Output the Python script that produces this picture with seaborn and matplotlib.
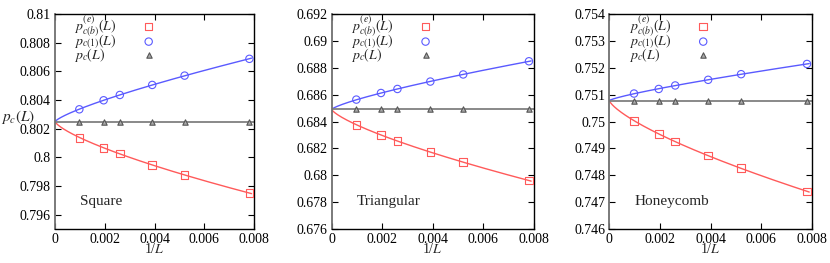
import numpy as np
import matplotlib
matplotlib.use('Agg')
import matplotlib.pyplot as plt
import seaborn as sns
from matplotlib.ticker import FormatStrFormatter, MultipleLocator

# data (x = 1/L for L = 1024, 512, 384, 256, 192, 128)
inv_L = [1/1024, 1/512, 1/384, 1/256, 1/192, 1/128]

square_e = [0.80137, 0.80067, 0.80026, 0.79947, 0.79877, 0.79751]
square_b = [0.80335, 0.80398, 0.80435, 0.80505, 0.80570, 0.80687]
square_c = [0.80249, 0.80249, 0.80249, 0.80249, 0.80249, 0.80249]

tri_e = [0.68375, 0.68298, 0.68255, 0.68175, 0.68098, 0.67960]
tri_b = [0.68563, 0.68612, 0.68642, 0.68697, 0.68750, 0.68848]
tri_c = [0.68490, 0.68490, 0.68490, 0.68490, 0.68490, 0.68490]

honey_e = [0.75003, 0.74953, 0.74925, 0.74874, 0.74826, 0.74740]
honey_b = [0.75104, 0.75121, 0.75134, 0.75155, 0.75176, 0.75214]
honey_c = [0.75078, 0.75078, 0.75078, 0.75078, 0.75078, 0.75078]

lattices = ['Square', 'Triangular', 'Honeycomb']
y_limits = [(0.795, 0.81), (0.676, 0.692), (0.746, 0.754)]
y_steps = [0.002, 0.002, 0.001]
x_ticks = [0, 0.002, 0.004, 0.006, 0.008]

legend_labels = [r'$p_{c(b)}^{(e)}(L)$', r'$p_{c(1)}(L)$', r'$p_{c}(L)$']

sns.set_theme(style='ticks')
plt.rcParams['font.family'] = ['Liberation Serif', 'DejaVu Serif']
plt.rcParams['mathtext.fontset'] = 'stix'

RED = '#ff5a5a'
BLUE = '#5a5aff'
GRAY = '#808080'
DARK = '#555555'


def fit_curve(x, y, pc, x_new):
    # pc + a*x^(3/4) + b*x, least squares with pc fixed
    x = np.asarray(x)
    A = np.column_stack([x ** 0.75, x])
    coef, *_ = np.linalg.lstsq(A, np.asarray(y) - pc, rcond=None)
    return pc + np.column_stack([x_new ** 0.75, x_new]) @ coef


def left_align_legend(leg, fig):
    # markerfirst=False right-aligns the rows; gnuplot keeps the text
    # left-aligned with the keys in one column, so widen each row's gap
    r = fig.canvas.get_renderer()
    col = leg._legend_handle_box.get_children()[0]
    widths = [t.get_window_extent(r).width for t in leg.get_texts()]
    wmax = max(widths)
    col.align = 'left'
    for row, w in zip(col.get_children(), widths):
        row.sep = row.sep + (wmax - w) * 72.0 / fig.dpi


fig = plt.figure(figsize=(8.3, 2.63), dpi=100)
positions = [
    [0.0663, 0.129, 0.2398, 0.818],
    [0.3996, 0.129, 0.2434, 0.818],
    [0.7341, 0.129, 0.2439, 0.818],
]
series = [
    (square_e, square_b, square_c),
    (tri_e, tri_b, tri_c),
    (honey_e, honey_b, honey_c),
]

x_fine = np.linspace(0, 0.0079, 200)

for i, (name, (ye, yb, yc)) in enumerate(zip(lattices, series)):
    ax = fig.add_axes(positions[i])
    pc = float(np.mean(yc))

    # fitted curves
    sns.lineplot(x=x_fine, y=fit_curve(inv_L, ye, pc, x_fine), color=RED, lw=1.0, ax=ax)
    sns.lineplot(x=x_fine, y=fit_curve(inv_L, yb, pc, x_fine), color=BLUE, lw=1.0, ax=ax)
    sns.lineplot(x=[0, 0.008], y=[pc, pc], color=GRAY, lw=1.3, ax=ax)

    # data points
    sns.scatterplot(x=inv_L, y=ye, marker='s', s=30, facecolor='none', edgecolor=RED,
                    linewidth=0.8, label=legend_labels[0], ax=ax, zorder=3)
    sns.scatterplot(x=inv_L, y=yb, marker='o', s=28, facecolor='none', edgecolor=BLUE,
                    linewidth=0.8, label=legend_labels[1], ax=ax, zorder=3)
    sns.scatterplot(x=inv_L, y=yc, marker='^', s=15, facecolor='#aaaaaa', edgecolor=DARK,
                    linewidth=0.8, label=legend_labels[2], ax=ax, zorder=3)

    ax.set_xlim(0, 0.008)
    ax.set_ylim(*y_limits[i])
    ax.set_xticks(x_ticks)
    ax.yaxis.set_major_locator(MultipleLocator(y_steps[i]))
    ax.xaxis.set_major_formatter(FormatStrFormatter('%g'))
    ax.yaxis.set_major_formatter(FormatStrFormatter('%g'))
    ax.tick_params(direction='in', top=True, right=True, length=4, width=0.8,
                   labelsize=10, pad=3, colors='black')
    for side in ['top', 'right', 'bottom']:
        ax.spines[side].set_color('black')
        ax.spines[side].set_linewidth(1.0)
    ax.spines['left'].set_color('#707070')
    ax.spines['left'].set_linewidth(1.3)

    ax.set_xlabel('1/$L$', fontsize=10, labelpad=-3)
    if i == 0:
        ax.set_ylabel('$p_c(L)$', rotation=0, fontsize=11, va='center', ha='left')
        ax.yaxis.set_label_coords(-0.272, 0.52)
    else:
        ax.set_ylabel('')

    ax.text(0.126, 0.13, name, transform=ax.transAxes, fontsize=11, va='center')

    leg = ax.legend(loc='upper left', bbox_to_anchor=(0.075, 1.025), markerfirst=False,
                    frameon=False, fontsize=10, labelspacing=-0.38, handlelength=1.0,
                    handletextpad=1.8, borderaxespad=0.1, borderpad=0.2)
    left_align_legend(leg, fig)

fig.savefig('out.png', dpi=100)
